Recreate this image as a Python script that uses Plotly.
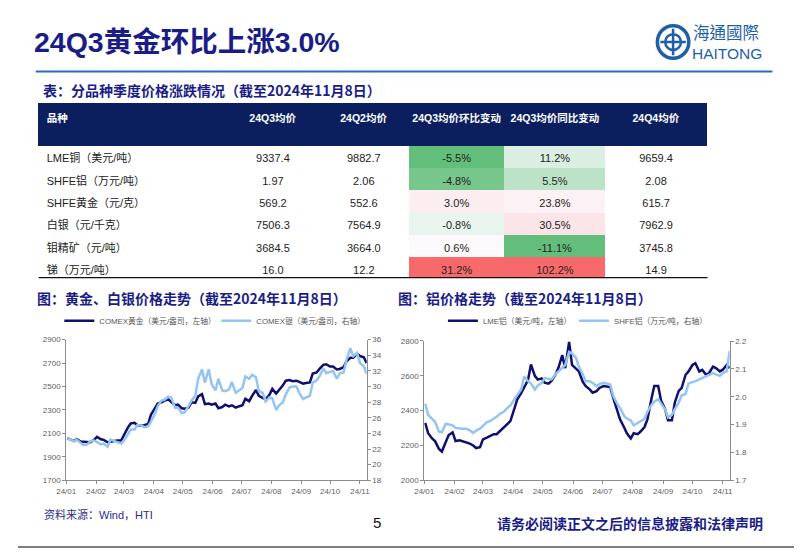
import pandas as pd
import plotly.graph_objects as go

# ---------------- data ----------------
products = ["LME铜（美元/吨）", "SHFE铝（万元/吨）", "SHFE黄金（元/克）",
            "白银（元/千克）", "钼精矿（元/吨）", "锑（万元/吨）"]
q3_avg = ["9337.4", "1.97", "569.2", "7506.3", "3684.5", "16.0"]
q2_avg = ["9882.7", "2.06", "552.6", "7564.9", "3664.0", "12.2"]
qoq_pct = [-5.5, -4.8, 3.0, -0.8, 0.6, 31.2]
yoy_pct = [11.2, 5.5, 23.8, 30.5, -11.1, 102.2]
q4_avg = ["9659.4", "2.08", "615.7", "7962.9", "3745.8", "14.9"]
table_header = ["品种", "24Q3均价", "24Q2均价", "24Q3均价环比变动", "24Q3均价同比变动", "24Q4均价"]

# twice-weekly observation dates (Tue / Fri)
dates = sorted(list(pd.date_range("2024-01-02", "2024-11-08", freq="W-TUE")) +
               list(pd.date_range("2024-01-02", "2024-11-08", freq="W-FRI")))

gold = [2060, 2050, 2035, 2050, 2030, 2030, 2025, 2025, 2045,
        2070, 2050, 2045, 2025, 2030, 2035, 2040, 2040,
        2090, 2150, 2185, 2190, 2170, 2165, 2170, 2180, 2260,
        2310, 2355, 2365, 2380, 2390, 2370, 2340, 2345, 2315,
        2310, 2320, 2365, 2360, 2415, 2435, 2350, 2355, 2345,
        2355, 2315, 2325, 2345, 2330, 2340, 2320, 2330,
        2340, 2395, 2375, 2420, 2470, 2420, 2405, 2390, 2430,
        2480, 2440, 2470, 2510, 2550, 2555, 2545, 2550, 2540,
        2525, 2530, 2535, 2610, 2620, 2650, 2685, 2690,
        2670, 2670, 2645, 2650, 2665, 2715, 2745, 2745, 2780,
        2760, 2750, 2700]
silver = [23.4, 23.2, 23.0, 23.2, 22.8, 22.5, 22.6, 23.0, 23.1,
          22.9, 22.6, 22.7, 22.3, 23.2, 23.0, 22.9, 22.7,
          23.1, 24.0, 24.5, 24.5, 25.1, 25.0, 24.8, 24.9, 25.5,
          26.5, 27.5, 28.2, 28.3, 28.7, 28.6, 27.3, 27.3, 26.6,
          26.7, 27.5, 28.2, 28.8, 31.0, 32.2, 30.5, 32.2, 30.3,
          29.5, 31.0, 29.5, 29.4, 29.6, 30.6, 29.2, 29.5,
          29.8, 31.3, 31.0, 31.5, 31.2, 29.4, 29.2, 28.1, 28.6,
          28.5, 27.0, 27.6, 28.0, 29.0, 29.9, 30.0, 30.0, 29.2,
          28.4, 28.6, 28.8, 30.5, 30.8, 31.3, 32.3, 31.7,
          31.9, 32.0, 31.0, 31.7, 31.8, 33.4, 34.9, 33.9, 34.3,
          33.0, 32.6, 31.6]
lme_al = [2330, 2270, 2240, 2225, 2180, 2165, 2220, 2260, 2275,
          2225, 2230, 2225, 2220, 2212, 2200, 2185, 2190,
          2235, 2245, 2255, 2265, 2265, 2285, 2300, 2320, 2340,
          2410, 2465, 2500, 2530, 2575, 2665, 2600, 2578, 2585,
          2560, 2555, 2570, 2606, 2644, 2719, 2644, 2794, 2662,
          2640, 2625, 2565, 2540, 2522, 2503, 2512, 2530,
          2541, 2540, 2535, 2475, 2400, 2350, 2306, 2270, 2240,
          2270, 2265, 2280, 2306, 2350, 2465, 2541, 2541, 2456,
          2409, 2344, 2344, 2447, 2513, 2531, 2606, 2625,
          2662, 2672, 2625, 2634, 2606, 2616, 2653, 2644, 2625,
          2635, 2662, 2644]
shfe_al = [1.975, 1.935, 1.920, 1.910, 1.875, 1.872, 1.903, 1.900, 1.897,
           1.888, 1.885, 1.885, 1.885, 1.880, 1.870, 1.878, 1.885,
           1.895, 1.909, 1.912, 1.920, 1.928, 1.940, 1.945, 1.960, 1.968,
           1.991, 2.005, 2.026, 2.073, 2.056, 2.048, 2.026, 2.040, 2.050,
           2.067, 2.064, 2.062, 2.080, 2.091, 2.105, 2.114, 2.161, 2.155,
           2.140, 2.108, 2.080, 2.056, 2.056, 2.050, 2.038, 2.045,
           2.050, 2.048, 2.044, 2.003, 1.975, 1.960, 1.932, 1.922, 1.915,
           1.897, 1.905, 1.912, 1.920, 1.945, 1.970, 1.982, 1.991, 1.975,
           1.955, 1.926, 1.935, 1.955, 1.979, 2.005, 2.010, 2.048,
           2.052, 2.056, 2.062, 2.067, 2.075, 2.080, 2.085, 2.080, 2.075,
           2.085, 2.092, 2.165]
assert len(dates) == len(gold) == len(silver) == len(lme_al) == len(shfe_al)

month_ticks = list(pd.date_range("2024-01-01", "2024-11-01", freq="MS"))

# ---------------- page geometry ----------------
# The page body keeps its default 8px margin, so the figure starts at (8, 8)
# and is sized to end exactly at the 802x554 window edge.
OX, OY = 8, 8
PW, PH = 802 - OX, 554 - OY
def px(x): return (x - OX) / PW
def py(y): return 1 - (y - OY) / PH

NAVY = "#1b1d86"
DARK = "#0f0f6e"
LIGHT = "#93c4f2"
FONT = "Liberation Sans, Arial, Noto Sans CJK SC, sans-serif"
CJK = "Noto Sans CJK SC, Liberation Sans, sans-serif"

def scale_color(v, vals):
    s = sorted(vals)
    n = len(s)
    md = (s[n // 2 - 1] + s[n // 2]) / 2 if n % 2 == 0 else s[n // 2]
    mn, mx = s[0], s[-1]
    white = (252, 252, 255)
    if v <= md:
        t = (md - v) / (md - mn) if md != mn else 0
        end = (99, 190, 123)
    else:
        t = (v - md) / (mx - md) if mx != md else 0
        end = (248, 105, 107)
    c = [round(white[i] + (end[i] - white[i]) * t) for i in range(3)]
    return "rgb(%d,%d,%d)" % tuple(c)

qoq_col = [scale_color(v, qoq_pct) for v in qoq_pct]
yoy_col = [scale_color(v, yoy_pct) for v in yoy_pct]
white_col = ["white"] * len(products)

fig = go.Figure()

# ---------------- table ----------------
fig.add_trace(go.Table(
    domain=dict(x=[px(29), px(709)], y=[py(279), py(101.5)]),
    columnwidth=[192, 93, 92, 97, 103, 103],
    header=dict(values=["<b>%s</b>" % h for h in table_header],
                align=["left"] + ["center"] * 5,
                fill_color="#0b1f5f",
                line=dict(color="#0b1f5f", width=1),
                font=dict(color="white", size=10.5, family=FONT),
                height=42),
    cells=dict(values=[products, q3_avg, q2_avg,
                       ["%.1f%%" % v for v in qoq_pct],
                       ["%.1f%%" % v for v in yoy_pct], q4_avg],
               align=["left"] + ["center"] * 5,
               fill_color=[white_col, white_col, white_col, qoq_col, yoy_col, white_col],
               line=dict(color=[white_col, white_col, white_col, qoq_col, yoy_col, white_col], width=1),
               font=dict(color="#222222", size=11, family=FONT),
               height=22.4),
))

# ---------------- chart 1: gold & silver ----------------
fig.add_trace(go.Scatter(x=dates, y=silver, name="COMEX银（美元/盎司，右轴）",
                         mode="lines", line=dict(color=LIGHT, width=2.5),
                         xaxis="x", yaxis="y2", legend="legend", legendrank=2))
fig.add_trace(go.Scatter(x=dates, y=gold, name="COMEX黄金（美元/盎司，左轴）",
                         mode="lines", line=dict(color=DARK, width=2.5),
                         xaxis="x", yaxis="y", legend="legend", legendrank=1))

# ---------------- chart 2: aluminium ----------------
fig.add_trace(go.Scatter(x=dates, y=shfe_al, name="SHFE铝（万元/吨，右轴）",
                         mode="lines", line=dict(color=LIGHT, width=2.5),
                         xaxis="x2", yaxis="y4", legend="legend2", legendrank=2))
fig.add_trace(go.Scatter(x=dates, y=lme_al, name="LME铝（美元/吨，左轴）",
                         mode="lines", line=dict(color=DARK, width=2.5),
                         xaxis="x2", yaxis="y3", legend="legend2", legendrank=1))

tickfont = dict(size=8, color="#606060", family=FONT)
axcommon = dict(showgrid=False, zeroline=False, showline=True, linecolor="#8c8c8c",
                linewidth=1, ticks="outside", ticklen=3, tickcolor="#8c8c8c",
                tickfont=tickfont, fixedrange=True)
xcommon = dict(axcommon, type="date", range=["2024-01-01", "2024-11-08"],
               tickvals=month_ticks, tickformat="%y/%m")

fig.update_layout(
    width=PW, height=PH, autosize=False,
    margin=dict(l=0, r=0, t=0, b=0),
    paper_bgcolor="white", plot_bgcolor="white",
    font=dict(family=FONT),
    xaxis=dict(xcommon, domain=[px(57), px(362.5)], anchor="y"),
    yaxis=dict(axcommon, domain=[py(484.3), py(341)], range=[1699, 2901],
               tick0=1700, dtick=200, anchor="x"),
    yaxis2=dict(axcommon, range=[17.98, 36.02], tick0=18, dtick=2,
                overlaying="y", side="right", anchor="x"),
    xaxis2=dict(xcommon, domain=[px(421), px(731.5)], anchor="y3"),
    yaxis3=dict(axcommon, domain=[py(484.3), py(342.3)], range=[1999, 2801],
                tick0=2000, dtick=200, anchor="x2"),
    yaxis4=dict(axcommon, range=[1.699, 2.201], tick0=1.7, dtick=0.1, tickformat=".1f",
                overlaying="y3", side="right", anchor="x2"),
    legend=dict(orientation="h", x=px(50), y=py(322), xanchor="left", yanchor="middle",
                font=dict(size=7.8, color="#555555", family=FONT), bgcolor="rgba(0,0,0,0)",
                traceorder="normal", entrywidth=112, entrywidthmode="pixels", itemwidth=30),
    legend2=dict(orientation="h", x=px(440), y=py(322), xanchor="left", yanchor="middle",
                 font=dict(size=7.8, color="#555555", family=FONT), bgcolor="rgba(0,0,0,0)",
                 traceorder="normal", entrywidth=86, entrywidthmode="pixels", itemwidth=30),
    showlegend=True,
)

# ---------------- decorations ----------------
shapes = [
    dict(type="line", xref="paper", yref="paper", x0=px(800), x1=px(800), y0=py(553), y1=py(8),
         line=dict(color="#7f7f7f", width=2)),
    dict(type="line", xref="paper", yref="paper", x0=px(8), x1=px(801), y0=py(552), y1=py(552),
         line=dict(color="#7f7f7f", width=2)),
    dict(type="line", xref="paper", yref="paper", x0=px(26), x1=px(775), y0=py(68.5), y1=py(68.5),
         line=dict(color="#2a6db5", width=2)),
    dict(type="line", xref="paper", yref="paper", x0=px(29), x1=px(709), y0=py(278), y1=py(278),
         line=dict(color="#111111", width=1.2)),
    # logo emblem
    dict(type="circle", xref="paper", yref="paper", x0=px(658), x1=px(690), y0=py(55), y1=py(22),
         line=dict(color="#1f5fa8", width=3.5)),
    dict(type="circle", xref="paper", yref="paper", x0=px(666), x1=px(682), y0=py(46.5), y1=py(30.5),
         line=dict(color="#1f5fa8", width=2.5)),
    dict(type="line", xref="paper", yref="paper", x0=px(674), x1=px(674), y0=py(52), y1=py(25),
         line=dict(color="#1f5fa8", width=2.5)),
    dict(type="line", xref="paper", yref="paper", x0=px(661), x1=px(687), y0=py(38.5), y1=py(38.5),
         line=dict(color="#1f5fa8", width=2.5)),
]

ann = [
    dict(text="<b>24Q3黄金环比上涨3.0%</b>", x=px(22), y=py(39), xanchor="left", yanchor="middle",
         font=dict(size=28.5, color=NAVY, family=FONT)),
    dict(text="海通國際", x=px(692), y=py(28.5), xanchor="left", yanchor="middle",
         font=dict(size=16.5, color="#1f5fa8", family="Noto Sans CJK TC")),
    dict(text="HAITONG", x=px(691), y=py(50), xanchor="left", yanchor="middle",
         font=dict(size=15.5, color="#1f5fa8", family=FONT)),
    dict(text="<b>表：分品种季度价格涨跌情况（截至2024年11月8日）</b>", x=px(31), y=py(87),
         xanchor="left", yanchor="middle", font=dict(size=14, color=NAVY, family=CJK)),
    dict(text="<b>图：黄金、白银价格走势（截至2024年11月8日）</b>", x=px(25), y=py(299),
         xanchor="left", yanchor="middle", font=dict(size=14, color=NAVY, family=CJK)),
    dict(text="<b>图：铝价格走势（截至2024年11月8日）</b>", x=px(392), y=py(299),
         xanchor="left", yanchor="middle", font=dict(size=14, color=NAVY, family=CJK)),
    dict(text="资料来源：Wind，HTI", x=px(32), y=py(518.5), xanchor="left", yanchor="middle",
         font=dict(size=11, color="#2b2b90", family=FONT)),
    dict(text="5", x=px(373), y=py(527), xanchor="center", yanchor="middle",
         font=dict(size=15, color="#111111", family=FONT)),
    dict(text="<b>请务必阅读正文之后的信息披露和法律声明</b>", x=px(767), y=py(528), xanchor="right",
         yanchor="middle", font=dict(size=14, color=NAVY, family=CJK)),
]
for a in ann:
    a.update(xref="paper", yref="paper", showarrow=False)

fig.update_layout(shapes=shapes, annotations=ann)

fig.write_html("out.html", config={"displayModeBar": False})
